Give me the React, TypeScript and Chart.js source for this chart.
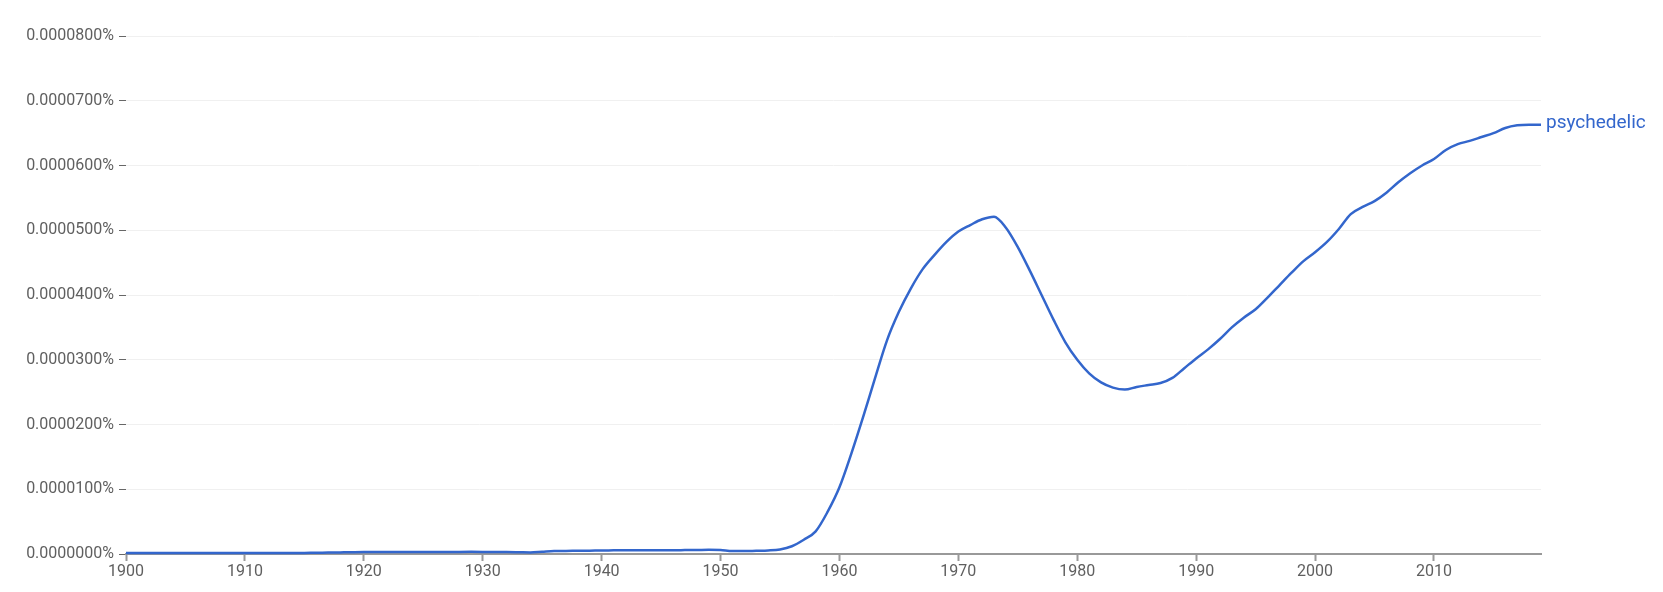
import React, { useEffect, useRef } from "react";
import { Chart, registerables } from "chart.js";

Chart.register(...registerables);

const years: number[] = Array.from({ length: 120 }, (_, i) => 1900 + i);

const psychedelic: number[] = [
  // 1900-1909
  1.5e-7, 1.5e-7, 1.5e-7, 1.5e-7, 1.5e-7, 1.5e-7, 1.5e-7, 1.5e-7, 1.5e-7, 1.5e-7,
  // 1910-1919
  1.5e-7, 1.5e-7, 1.5e-7, 1.5e-7, 1.5e-7, 1.7e-7, 2.0e-7, 2.2e-7, 2.5e-7, 2.8e-7,
  // 1920-1929
  3.0e-7, 3.0e-7, 3.0e-7, 3.0e-7, 3.0e-7, 3.0e-7, 3.0e-7, 3.0e-7, 3.2e-7, 3.3e-7,
  // 1930-1939
  3.2e-7, 3.0e-7, 3.0e-7, 2.8e-7, 2.5e-7, 3.5e-7, 4.5e-7, 4.8e-7, 5.0e-7, 5.2e-7,
  // 1940-1949
  5.5e-7, 5.6e-7, 5.8e-7, 5.8e-7, 5.8e-7, 5.8e-7, 5.8e-7, 6.0e-7, 6.2e-7, 6.5e-7,
  // 1950-1959
  6.0e-7, 4.5e-7, 4.5e-7, 5.0e-7, 5.5e-7, 7.0e-7, 1.2e-6, 2.2e-6, 3.5e-6, 6.5e-6,
  // 1960-1969
  1.03e-5, 1.55e-5, 2.12e-5, 2.72e-5, 3.3e-5, 3.74e-5, 4.1e-5, 4.4e-5, 4.62e-5, 4.82e-5,
  // 1970-1979
  4.98e-5, 5.08e-5, 5.17e-5, 5.21e-5, 5.04e-5, 4.74e-5, 4.38e-5, 4.0e-5, 3.62e-5, 3.27e-5,
  // 1980-1989
  3.0e-5, 2.79e-5, 2.65e-5, 2.57e-5, 2.54e-5, 2.58e-5, 2.61e-5, 2.64e-5, 2.72e-5, 2.87e-5,
  // 1990-1999
  3.02e-5, 3.16e-5, 3.32e-5, 3.5e-5, 3.65e-5, 3.78e-5, 3.96e-5, 4.15e-5, 4.34e-5, 4.52e-5,
  // 2000-2009
  4.66e-5, 4.82e-5, 5.02e-5, 5.25e-5, 5.36e-5, 5.45e-5, 5.58e-5, 5.74e-5, 5.88e-5, 6.0e-5,
  // 2010-2019
  6.1e-5, 6.24e-5, 6.33e-5, 6.38e-5, 6.44e-5, 6.5e-5, 6.58e-5, 6.62e-5, 6.63e-5, 6.63e-5,
];

const seriesLabel = "psychedelic";
const yMin = 0;
const yMax = 8e-5;
const yStep = 1e-5;
const xMin = 1900;
const xMax = 2019;
const xTickYears: number[] = [1900, 1910, 1920, 1930, 1940, 1950, 1960, 1970, 1980, 1990, 2000, 2010];

const LINE_COLOR = "#3366cc";
const TEXT_COLOR = "#5f5f5f";
const FONT = "Roboto";

const endLabelPlugin = {
  id: "endLabel",
  afterDatasetsDraw(chart: any) {
    const meta = chart.getDatasetMeta(0);
    const pts = meta.data;
    if (!pts || !pts.length) return;
    const last = pts[pts.length - 1];
    const ctx = chart.ctx;
    ctx.save();
    ctx.font = `19px ${FONT}`;
    ctx.fillStyle = LINE_COLOR;
    ctx.textAlign = "left";
    ctx.textBaseline = "middle";
    ctx.fillText(chart.data.datasets[0].label, last.x + 5, last.y - 1);
    ctx.restore();
  },
};

export default function App() {
  const ref = useRef<HTMLCanvasElement | null>(null);

  useEffect(() => {
    document.body.style.margin = "0";
    const canvas = ref.current;
    if (!canvas) return;
    const chart = new Chart(canvas, {
      type: "line",
      data: {
        datasets: [
          {
            label: seriesLabel,
            data: years.map((y, i) => ({ x: y, y: psychedelic[i] })),
            borderColor: LINE_COLOR,
            backgroundColor: LINE_COLOR,
            borderWidth: 2.5,
            pointRadius: 0,
            pointHoverRadius: 0,
            cubicInterpolationMode: "monotone",
            fill: false,
            clip: false as any,
          },
        ],
      },
      options: {
        animation: false,
        responsive: false,
        maintainAspectRatio: false,
        layout: { padding: { top: 36, right: 122, bottom: 0, left: 0 } },
        plugins: {
          legend: { display: false },
          tooltip: { enabled: false },
        },
        scales: {
          x: {
            type: "linear",
            min: xMin,
            max: xMax,
            afterFit(scale: any) {
              scale.height = 38;
            },
            afterBuildTicks(scale: any) {
              scale.ticks = xTickYears.map((v) => ({ value: v }));
            },
            ticks: {
              autoSkip: false,
              maxRotation: 0,
              color: TEXT_COLOR,
              font: { family: FONT, size: 16 },
              padding: 1,
              callback: (v: any) => String(v),
            },
            grid: {
              drawOnChartArea: false,
              drawTicks: true,
              tickLength: 7,
              tickWidth: 2,
              tickColor: "#999999",
            },
            border: { display: true, color: "#999999", width: 2 },
          },
          y: {
            type: "linear",
            min: yMin,
            max: yMax,
            afterFit(scale: any) {
              scale.width = 126;
            },
            ticks: {
              stepSize: yStep,
              color: TEXT_COLOR,
              font: { family: FONT, size: 16 },
              padding: 5,
              callback: (v: any) => Number(v).toFixed(7) + "%",
            },
            grid: {
              color: "#f0f0f0",
              lineWidth: 1,
              drawTicks: true,
              tickLength: 7,
              tickColor: "#666666",
              tickWidth: 1,
            },
            border: { display: false },
          },
        },
      },
      plugins: [endLabelPlugin],
    });
    return () => chart.destroy();
  }, []);

  return (
    <div style={{ width: 1663, height: 592, background: "#fff" }}>
      <canvas ref={ref} width={1663} height={592} style={{ display: "block", width: 1663, height: 592 }} />
    </div>
  );
}
